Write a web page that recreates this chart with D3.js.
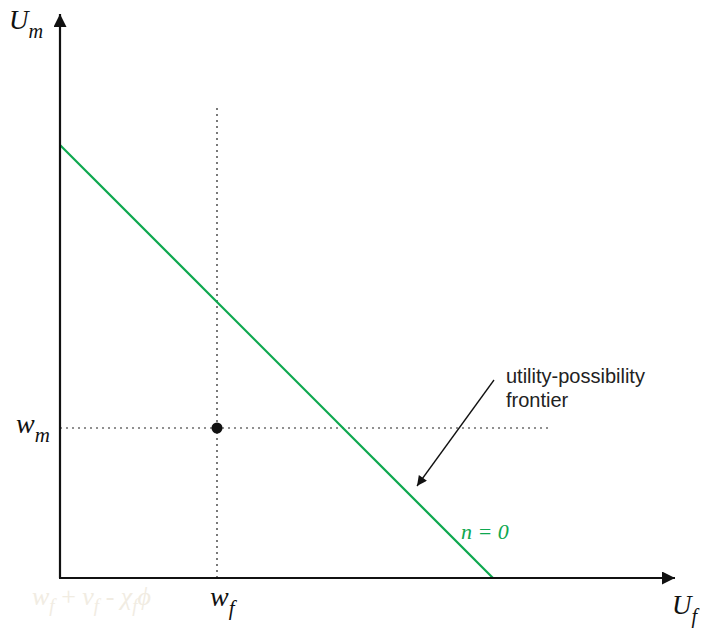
<!DOCTYPE html>
<html>
<head>
<meta charset="utf-8">
<script src="https://cdn.jsdelivr.net/npm/d3@7"></script>
<style>
  body { margin: 0; background: #fff; }
  svg { display: block; }
  .math { font-family: 'Liberation Serif', 'DejaVu Serif', serif; font-style: italic; }
</style>
</head>
<body>
<div id="chart"></div>
<script>
// axis extent (utility units)
const axisMax = { x: 615, y: 564 };
// utility-possibility frontier, n = 0
const frontierX = [0, 433];
const frontierY = [433, 0];
// threat point (w_f, w_m)
const threatX = [157];
const threatY = [150];
const guideTop = 473;
const guideRight = 488;

const width = 706, height = 630;
const origin = { x: 60, y: 578 };

const svg = d3.select('#chart')
  .append('svg')
  .attr('width', width)
  .attr('height', height);

const x = d3.scaleLinear().domain([0, axisMax.x]).range([origin.x, origin.x + axisMax.x]);
const y = d3.scaleLinear().domain([0, axisMax.y]).range([origin.y, origin.y - axisMax.y]);

const defs = svg.append('defs');
const mk = (id, w, h) => defs.append('marker')
  .attr('id', id)
  .attr('viewBox', '0 0 10 10')
  .attr('refX', 10).attr('refY', 5)
  .attr('markerWidth', w).attr('markerHeight', h)
  .attr('markerUnits', 'userSpaceOnUse')
  .attr('orient', 'auto')
  .append('path')
  .attr('d', 'M0,0 L10,5 L0,10 z')
  .attr('fill', '#111');
mk('axisArrow', 17, 13);
mk('noteArrow', 14, 10);

// dotted guides
svg.append('line')
  .attr('x1', x(threatX[0])).attr('x2', x(threatX[0]))
  .attr('y1', y(0)).attr('y2', y(guideTop))
  .attr('stroke', '#222').attr('stroke-width', 1.2)
  .attr('stroke-dasharray', '2,4');
svg.append('line')
  .attr('x1', x(0)).attr('x2', x(guideRight))
  .attr('y1', y(threatY[0])).attr('y2', y(threatY[0]))
  .attr('stroke', '#222').attr('stroke-width', 1.2)
  .attr('stroke-dasharray', '2,4');

// frontier
const line = d3.line().x(d => x(d[0])).y(d => y(d[1]));
svg.append('path')
  .datum(d3.zip(frontierX, frontierY))
  .attr('d', line)
  .attr('fill', 'none')
  .attr('stroke', '#0ea84f')
  .attr('stroke-width', 2.2);

// axes
svg.append('line')
  .attr('x1', x(0)).attr('y1', y(0))
  .attr('x2', x(0)).attr('y2', y(axisMax.y))
  .attr('stroke', '#111').attr('stroke-width', 2.2)
  .attr('marker-end', 'url(#axisArrow)');
svg.append('line')
  .attr('x1', x(0) - 1).attr('y1', y(0))
  .attr('x2', x(axisMax.x)).attr('y2', y(0))
  .attr('stroke', '#111').attr('stroke-width', 2.2)
  .attr('marker-end', 'url(#axisArrow)');

// threat point
svg.selectAll('circle.pt')
  .data(d3.zip(threatX, threatY))
  .enter().append('circle')
  .attr('class', 'pt')
  .attr('cx', d => x(d[0])).attr('cy', d => y(d[1]))
  .attr('r', 5.5)
  .attr('fill', '#111');

// annotation arrow
svg.append('line')
  .attr('x1', 494).attr('y1', 380)
  .attr('x2', 417).attr('y2', 486)
  .attr('stroke', '#111').attr('stroke-width', 1.3)
  .attr('marker-end', 'url(#noteArrow)');

const note = svg.append('text')
  .attr('x', 506).attr('y', 383)
  .style('font-family', 'Liberation Sans, Arial, sans-serif')
  .style('font-size', '20px')
  .attr('fill', '#222');
note.append('tspan').attr('x', 506).text('utility-possibility');
note.append('tspan').attr('x', 506).attr('dy', 24).text('frontier');

// math labels
const sub = (sel, base, s, fs) => {
  sel.append('tspan').text(base);
  sel.append('tspan').attr('dy', fs * 0.32).style('font-size', (fs * 0.75) + 'px').text(s);
};

const um = svg.append('text').attr('class', 'math').attr('x', 9).attr('y', 29).style('font-size', '27px').attr('fill', '#111');
sub(um, 'U', 'm', 27);

const uf = svg.append('text').attr('class', 'math').attr('x', 672).attr('y', 614).style('font-size', '27px').attr('fill', '#111');
sub(uf, 'U', 'f', 27);

const wm = svg.append('text').attr('class', 'math').attr('x', 16).attr('y', 433).style('font-size', '28px').attr('fill', '#111');
sub(wm, 'w', 'm', 28);

const wf = svg.append('text').attr('class', 'math').attr('x', 210).attr('y', 606).style('font-size', '28px').attr('fill', '#111');
sub(wf, 'w', 'f', 28);

const faint = svg.append('text').attr('class', 'math').attr('x', 32).attr('y', 605).style('font-size', '26px').attr('fill', '#f1ece2');
faint.append('tspan').text('w');
faint.append('tspan').attr('dy', 7).style('font-size', '19px').text('f');
faint.append('tspan').attr('dy', -7).style('font-style', 'normal').text(' + ');
faint.append('tspan').text('v');
faint.append('tspan').attr('dy', 7).style('font-size', '19px').text('f');
faint.append('tspan').attr('dy', -7).style('font-style', 'normal').text(' - ');
faint.append('tspan').text('χ');
faint.append('tspan').attr('dy', 7).style('font-size', '19px').text('f');
faint.append('tspan').attr('dy', -7).text('ϕ');

svg.append('text').attr('class', 'math')
  .attr('x', 461).attr('y', 539)
  .style('font-size', '22px')
  .attr('fill', '#0ea84f')
  .text('n = 0');
</script>
</body>
</html>
